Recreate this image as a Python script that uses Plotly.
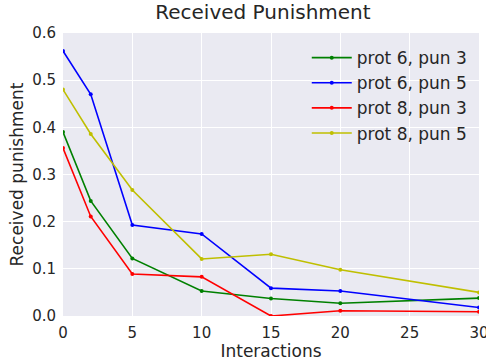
import plotly.graph_objects as go

# Interactions sampled
interactions = [0, 2, 5, 10, 15, 20, 30]

# Mean received punishment per configuration
prot6_pun3 = [0.390, 0.244, 0.122, 0.053, 0.037, 0.027, 0.038]
prot6_pun5 = [0.562, 0.470, 0.193, 0.174, 0.059, 0.053, 0.018]
prot8_pun3 = [0.356, 0.211, 0.089, 0.083, 0.000, 0.011, 0.009]
prot8_pun5 = [0.480, 0.386, 0.267, 0.121, 0.131, 0.098, 0.050]

series_names = ["prot 6, pun 3", "prot 6, pun 5", "prot 8, pun 3", "prot 8, pun 5"]
series_values = [prot6_pun3, prot6_pun5, prot8_pun3, prot8_pun5]
series_colors = ["#008000", "#0000FF", "#FF0000", "#BFBF00"]

x_ticks = [0, 5, 10, 15, 20, 25, 30]
y_ticks = [0.0, 0.1, 0.2, 0.3, 0.4, 0.5, 0.6]

fig = go.Figure()
for name, vals, col in zip(series_names, series_values, series_colors):
    fig.add_trace(go.Scatter(
        x=interactions, y=vals, name=name, mode="lines+markers",
        line=dict(color=col, width=1.6),
        marker=dict(color=col, size=4),
    ))

font = "DejaVu Sans, sans-serif"
ink = "#262626"
fig.update_layout(
    width=486, height=361,
    margin=dict(l=63, r=7, t=33, b=45),
    paper_bgcolor="white",
    plot_bgcolor="#EAEAF2",
    font=dict(family=font, color=ink),
    title=dict(text="Received Punishment", x=0.541, xanchor="center",
               y=0.966, yanchor="middle", font=dict(size=20, family=font, color=ink)),
    showlegend=True,
    legend=dict(x=0.985, y=0.975, xanchor="right", yanchor="top",
                bgcolor="rgba(0,0,0,0)", font=dict(size=17, family=font, color=ink),
                itemwidth=40, tracegroupgap=0),
    xaxis=dict(range=[0, 30], tickvals=x_ticks, ticktext=[str(v) for v in x_ticks],
               showgrid=True, gridcolor="white", gridwidth=1, zeroline=False,
               showline=False, ticks="outside", ticklen=3, tickcolor="rgba(0,0,0,0)",
               ticklabeloverflow="allow", automargin=False,
               tickfont=dict(size=15, color=ink),
               title=dict(text="Interactions", font=dict(size=17, color=ink), standoff=0)),
    yaxis=dict(range=[0, 0.6], tickvals=y_ticks, ticktext=[f"{v:.1f}" for v in y_ticks],
               showgrid=True, gridcolor="white", gridwidth=1, zeroline=False,
               showline=False, ticks="outside", ticklen=3, tickcolor="rgba(0,0,0,0)",
               automargin=False,
               tickfont=dict(size=15, color=ink),
               title=dict(text="Received punishment", font=dict(size=17, color=ink), standoff=4)),
)

fig.write_html("out.html")
